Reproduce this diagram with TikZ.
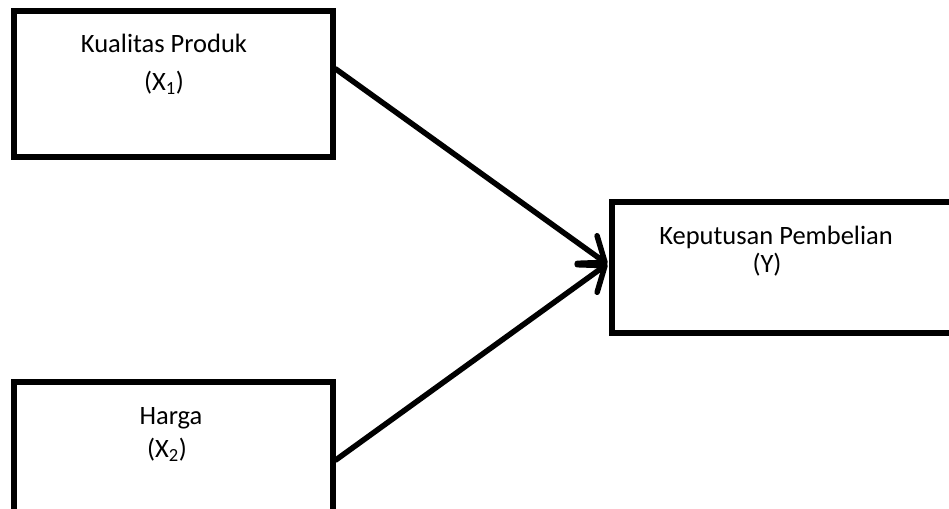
\documentclass[tikz,border=0pt]{standalone}
\usepackage{fontspec}
\setmainfont{Carlito}
\usetikzlibrary{arrows.meta,calc}

\tikzset{
	varbox/.style={draw=black, line width=5.5pt, fill=white, rectangle, inner sep=0pt},
	varlbl/.style={anchor=base, inner sep=0pt, font=\fontsize{26.5}{30}\selectfont},
	panah/.style={line width=5.5pt, line cap=round, -{Straight Barb[length=22pt,width=34pt,round]}}
}

\begin{document}
\begin{tikzpicture}[x=1pt, y=1pt]
		\useasboundingbox (0,0) rectangle (949,508);
		\begin{scope}
			\clip (0,0) rectangle (949,508);

			% kotak variabel
			\node[varbox, minimum width=319pt, minimum height=146pt] (kp) at (173.5,424) {};
			\node[varbox, minimum width=319pt, minimum height=130pt] (hg) at (173.5,61) {};
			\node[varbox, minimum width=343pt, minimum height=131pt] (kep) at (783.5,240.5) {};

			% teks
			\node[varlbl] (kp1) at (164,455) {Kualitas Produk};
			\node[varlbl] (kp2) at (164,417) {(X\textsubscript{1})};
			\node[varlbl] (hg1) at (171,83) {Harga};
			\node[varlbl] (hg2) at (167,50) {(X\textsubscript{2})};
			\node[varlbl] (kep1) at (776,263) {Keputusan Pembelian};
			\node[varlbl] (kep2) at (767,235) {(Y)};

			% panah
			\coordinate (kpout) at ($(kp.east)+(0,15)$);
			\coordinate (hgout) at ($(hg.east)+(0,-13)$);
			\coordinate (ujung) at ($(kep.west)+(-2,3.5)$);
			\draw[panah] (kpout) -- (ujung);
			\draw[panah] (hgout) -- (ujung);
		\end{scope}
	\end{tikzpicture}
\end{document}
